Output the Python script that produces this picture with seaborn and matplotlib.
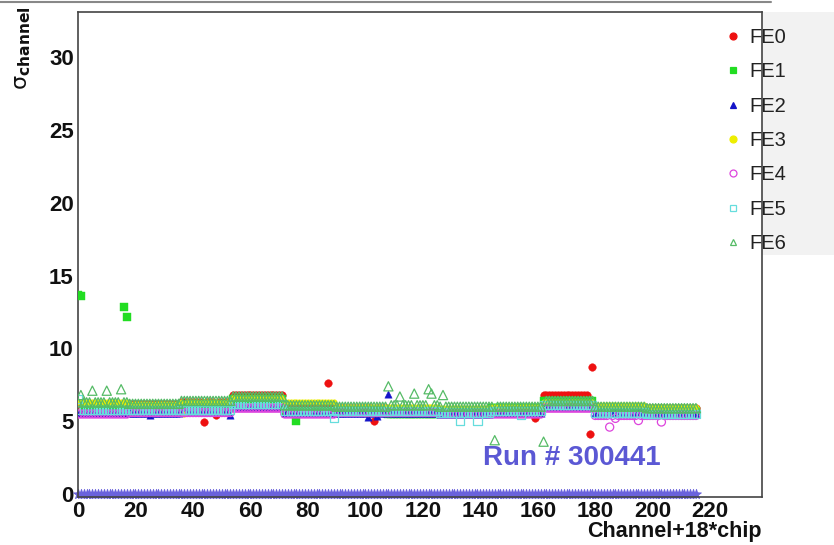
import numpy as np
import pandas as pd
import matplotlib
matplotlib.use("Agg")
import matplotlib.pyplot as plt
from matplotlib.lines import Line2D
from matplotlib.patches import Rectangle
from matplotlib.ticker import MultipleLocator
import seaborn as sns

# ---- data: per-chip noise level of every front-end (12 chips x 18 channels)
n_chips = 12
ch_per_chip = 18
fe_names = ["FE0", "FE1", "FE2", "FE3", "FE4", "FE5", "FE6"]

fe0_levels = [6.2, 6.2, 6.3, 6.8, 6.0, 5.9, 5.8, 5.8, 5.9, 6.8, 6.0, 5.9]
fe1_levels = [6.0, 6.0, 6.1, 6.5, 5.7, 5.8, 5.5, 5.6, 5.9, 6.4, 5.9, 5.7]
fe2_levels = [5.6, 5.6, 5.7, 6.0, 5.6, 5.6, 5.6, 5.5, 5.6, 6.0, 5.6, 5.5]
fe3_levels = [6.3, 6.2, 6.3, 6.6, 6.3, 6.0, 6.0, 5.9, 6.0, 6.3, 6.1, 6.0]
fe4_levels = [5.5, 5.6, 5.6, 5.9, 5.5, 5.6, 5.6, 5.5, 5.5, 5.9, 5.4, 5.4]
fe5_levels = [5.8, 5.8, 5.8, 6.2, 5.7, 5.7, 5.7, 5.6, 5.7, 6.1, 5.6, 5.5]
fe6_levels = [6.3, 6.2, 6.4, 6.7, 6.1, 6.0, 6.1, 6.0, 6.0, 6.4, 6.0, 5.9]

# individual channels that stand out from their chip level
fe0_special = {44: 4.95, 48: 5.4, 87: 7.6, 103: 5.05, 159: 5.2, 178: 4.1, 179: 8.7}
fe1_special = {0: 13.7, 1: 13.6, 16: 12.85, 17: 12.15, 76: 5.0}
fe2_special = {25: 5.4, 53: 5.4, 101: 5.3, 104: 5.35, 108: 6.9}
fe3_special = {37: 5.5}
fe4_special = {185: 4.6, 187: 5.2, 195: 5.05, 203: 4.95}
fe5_special = {0: 6.5, 89: 5.2, 133: 5.0, 139: 5.0, 154: 5.4}
fe6_special = {1: 6.8, 5: 7.1, 10: 7.1, 15: 7.2, 108: 7.4, 112: 6.7,
               117: 6.9, 122: 7.2, 123: 6.9, 127: 6.8, 145: 3.7, 162: 3.6}

zero_row = [0.0] * (n_chips * ch_per_chip)
run_label = "Run # 300441"

all_levels = [fe0_levels, fe1_levels, fe2_levels, fe3_levels,
              fe4_levels, fe5_levels, fe6_levels]
all_special = [fe0_special, fe1_special, fe2_special, fe3_special,
               fe4_special, fe5_special, fe6_special]

rows = []
for name, levels, special in zip(fe_names, all_levels, all_special):
    for chip, lev in enumerate(levels):
        for c in range(ch_per_chip):
            ch = c + ch_per_chip * chip
            rows.append((name, ch, special.get(ch, lev)))
df = pd.DataFrame(rows, columns=["fe", "channel", "sigma"])
zero_df = pd.DataFrame({"channel": np.arange(len(zero_row)), "sigma": zero_row})

# ---- styles
colors = ["#ee1111", "#22dd22", "#1414c8", "#eeee00", "#dd44dd", "#66dddd", "#55bb66"]
markers = ["o", "s", "^", "o", "o", "s", "^"]
filled = [True, True, True, True, False, False, False]
sizes = [30, 30, 28, 16, 34, 34, 44]

sns.set_theme(style="white")
plt.rcParams["font.family"] = ["Liberation Sans", "DejaVu Sans"]

fig = plt.figure(figsize=(8.34, 5.45), dpi=100)
ax = fig.add_axes([78 / 834, 1 - 497 / 545, 684 / 834, 485 / 545])

sns.scatterplot(data=zero_df, x="channel", y="sigma", marker="*", s=55,
                color="#6a62dc", edgecolor="#6a62dc", linewidth=0.6, ax=ax,
                zorder=2, clip_on=False, legend=False)

for name, col, mk, fl, sz in zip(fe_names, colors, markers, filled, sizes):
    sub = df[df.fe == name]
    if fl:
        sns.scatterplot(data=sub, x="channel", y="sigma", marker=mk, s=sz,
                        color=col, edgecolor=col, linewidth=0.3, ax=ax,
                        zorder=3, legend=False)
    else:
        sns.scatterplot(data=sub, x="channel", y="sigma", marker=mk, s=sz,
                        facecolor="none", edgecolor=col, linewidth=0.9,
                        ax=ax, zorder=3, legend=False)

ax.set_xlim(0, 238)
ax.set_ylim(-0.2, 33.1)
ax.xaxis.set_major_locator(MultipleLocator(20))
ax.xaxis.set_minor_locator(MultipleLocator(5))
ax.yaxis.set_major_locator(MultipleLocator(5))
ax.yaxis.set_minor_locator(MultipleLocator(1))
ax.tick_params(axis="both", which="major", direction="in", length=19, width=1.2,
               color="#333333", labelsize=16, pad=3, labelcolor="#111111")
ax.tick_params(axis="both", which="minor", direction="in", length=9, width=1.0,
               color="#333333")
ax.tick_params(axis="x", which="major", pad=3)
for lab in ax.get_xticklabels() + ax.get_yticklabels():
    lab.set_fontweight("bold")
for sp in ax.spines.values():
    sp.set_color("#444444")
    sp.set_linewidth(1.2)
ax.set_xlabel("")
ax.set_ylabel("")

# axis titles
fig.text(762 / 834, 1 - 537 / 545, "Channel+18*chip", ha="right", va="baseline",
         fontsize=15.5, fontweight="bold", color="#111111")
fig.text(12 / 834, 1 - 6 / 545, r"$\mathrm{\sigma}_{\mathbf{channel}}$", rotation=90,
         ha="left", va="top", fontsize=16, color="#111111")

# run number
ax.text(141, 2.0, run_label, fontsize=20, fontweight="bold", color="#5b58d4",
        ha="left", va="baseline")

# title-box edge at the top of the canvas
fig.add_artist(Line2D([0, 771 / 834], [1 - 2 / 545, 1 - 2 / 545],
                      transform=fig.transFigure, color="#888888", lw=1.5))

# legend panel
fig.add_artist(Rectangle((720 / 834, 1 - 255 / 545), 114 / 834, 243 / 545,
                         transform=fig.transFigure, facecolor="#f2f2f2",
                         edgecolor="none", zorder=0))
handles = []
for name, col, mk, fl in zip(fe_names, colors, markers, filled):
    handles.append(Line2D([], [], linestyle="", marker=mk, markersize=5,
                          markerfacecolor=col if fl else "none",
                          markeredgecolor=col, markeredgewidth=0.9, label=name))
fig.legend(handles=handles, loc="upper left",
           bbox_to_anchor=(709 / 834, 1 - 14 / 545), frameon=False,
           fontsize=14.5, labelspacing=0.76, handlelength=1.0,
           handletextpad=0.3, borderpad=0.2, labelcolor="#222222")

fig.savefig("out.png", dpi=100)
